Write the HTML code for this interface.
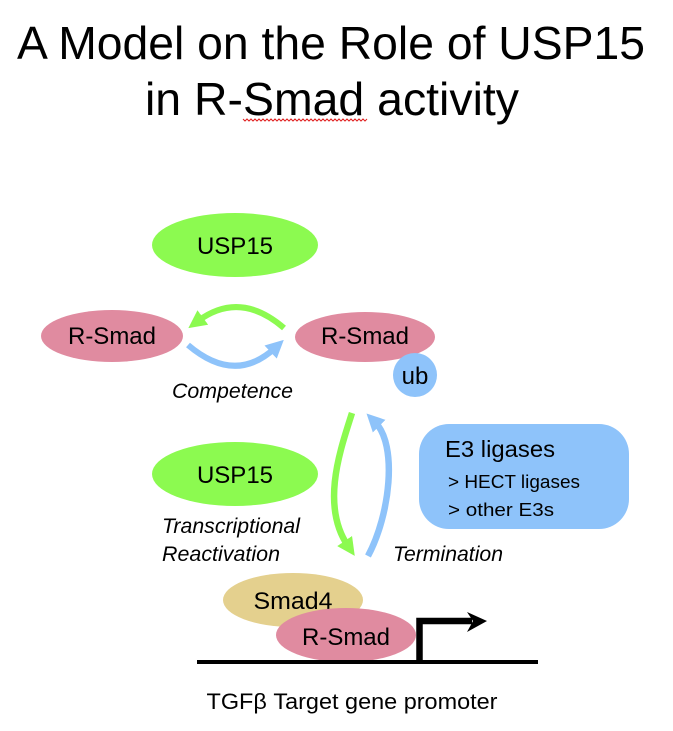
<!DOCTYPE html>
<html><head><meta charset="utf-8"><style>
html,body{margin:0;padding:0;background:#fff;}
svg{display:block;}
text{font-family:"Liberation Sans",Arial,sans-serif;fill:#000;}
</style></head><body>
<svg width="673" height="731" viewBox="0 0 673 731" xmlns="http://www.w3.org/2000/svg">
<defs>
<marker id="ag" viewBox="0 0 18 18" refX="6" refY="9" markerWidth="18" markerHeight="18" markerUnits="userSpaceOnUse" orient="auto"><path d="M0,0 L18,9 L0,18 z" fill="#8cfa50"/></marker>
<marker id="ab" viewBox="0 0 18 18" refX="6" refY="9" markerWidth="18" markerHeight="18" markerUnits="userSpaceOnUse" orient="auto"><path d="M0,0 L18,9 L0,18 z" fill="#8ec3fa"/></marker>
</defs>
<rect width="673" height="731" fill="#fff"/>
<!-- Title -->
<text x="331" y="59" font-size="46" text-anchor="middle" textLength="628" lengthAdjust="spacingAndGlyphs">A Model on the Role of USP15</text>
<text x="332" y="115" font-size="46" text-anchor="middle" textLength="374" lengthAdjust="spacingAndGlyphs">in R-Smad activity</text>
<polyline points="243,119 245,121 247,119 249,121 251,119 253,121 255,119 257,121 259,119 261,121 263,119 265,121 267,119 269,121 271,119 273,121 275,119 277,121 279,119 281,121 283,119 285,121 287,119 289,121 291,119 293,121 295,119 297,121 299,119 301,121 303,119 305,121 307,119 309,121 311,119 313,121 315,119 317,121 319,119 321,121 323,119 325,121 327,119 329,121 331,119 333,121 335,119 337,121 339,119 341,121 343,119 345,121 347,119 349,121 351,119 353,121 355,119 357,121 359,119 361,121 363,119 365,121 367,119" fill="none" stroke="#e02020" stroke-width="1"/>

<!-- Top USP15 -->
<ellipse cx="235" cy="245" rx="83" ry="32" fill="#8cfa50"/>
<text x="235" y="254" font-size="24" text-anchor="middle">USP15</text>

<!-- R-Smads -->
<ellipse cx="112" cy="336" rx="71" ry="26" fill="#e08ba0"/>
<text x="112" y="344" font-size="24" text-anchor="middle">R-Smad</text>
<ellipse cx="365" cy="337" rx="70" ry="25" fill="#e08ba0"/>
<text x="365" y="344" font-size="24" text-anchor="middle">R-Smad</text>
<circle cx="415" cy="375" r="22" fill="#8ec3fa"/>
<text x="415" y="384" font-size="24" text-anchor="middle">ub</text>

<!-- horizontal cycle arrows -->
<path d="M284,328 Q240,290 198,321" fill="none" stroke="#8cfa50" stroke-width="6" marker-end="url(#ag)"/>
<path d="M188,345 Q235,385 275,348" fill="none" stroke="#8ec3fa" stroke-width="6" marker-end="url(#ab)"/>
<text x="172" y="398" font-size="21" font-style="italic" textLength="121" lengthAdjust="spacingAndGlyphs">Competence</text>

<!-- vertical arrows -->
<path d="M352,413 C341,448 320,505 348,546" fill="none" stroke="#8cfa50" stroke-width="6.5" marker-end="url(#ag)"/>
<path d="M368,556 C390,515 398,445 375,422" fill="none" stroke="#8ec3fa" stroke-width="6.5" marker-end="url(#ab)"/>

<!-- Lower USP15 -->
<ellipse cx="235" cy="474" rx="83" ry="32" fill="#8cfa50"/>
<text x="235" y="483" font-size="24" text-anchor="middle">USP15</text>
<text x="162" y="533" font-size="21" font-style="italic" textLength="138" lengthAdjust="spacingAndGlyphs">Transcriptional</text>
<text x="162" y="561" font-size="21" font-style="italic" textLength="118" lengthAdjust="spacingAndGlyphs">Reactivation</text>
<text x="393" y="561" font-size="21" font-style="italic" textLength="110" lengthAdjust="spacingAndGlyphs">Termination</text>

<!-- E3 box -->
<rect x="419" y="424" width="210" height="105" rx="30" ry="30" fill="#8ec3fa"/>
<text x="445" y="457" font-size="23" textLength="110" lengthAdjust="spacingAndGlyphs">E3 ligases</text>
<text x="448" y="488" font-size="18" textLength="132" lengthAdjust="spacingAndGlyphs">&gt; HECT ligases</text>
<text x="448" y="516" font-size="18" textLength="106" lengthAdjust="spacingAndGlyphs">&gt; other E3s</text>

<!-- promoter complex -->
<ellipse cx="293" cy="600" rx="70" ry="27" fill="#e4d08e"/>
<text x="293" y="609" font-size="24" text-anchor="middle" textLength="79" lengthAdjust="spacingAndGlyphs">Smad4</text>
<ellipse cx="346" cy="635" rx="70" ry="27" fill="#e08ba0"/>
<text x="346" y="645" font-size="24" text-anchor="middle" textLength="88" lengthAdjust="spacingAndGlyphs">R-Smad</text>

<line x1="197" y1="662" x2="538" y2="662" stroke="#000" stroke-width="4"/>
<path d="M419.5,664 L419.5,621 L472,621" fill="none" stroke="#000" stroke-width="6.5"/>
<path d="M467,612 L487,621 L467,632 L473,621 z" fill="#000"/>

<text x="352" y="709" font-size="22" text-anchor="middle" textLength="291" lengthAdjust="spacingAndGlyphs">TGFβ Target gene promoter</text>
</svg>
</body></html>
